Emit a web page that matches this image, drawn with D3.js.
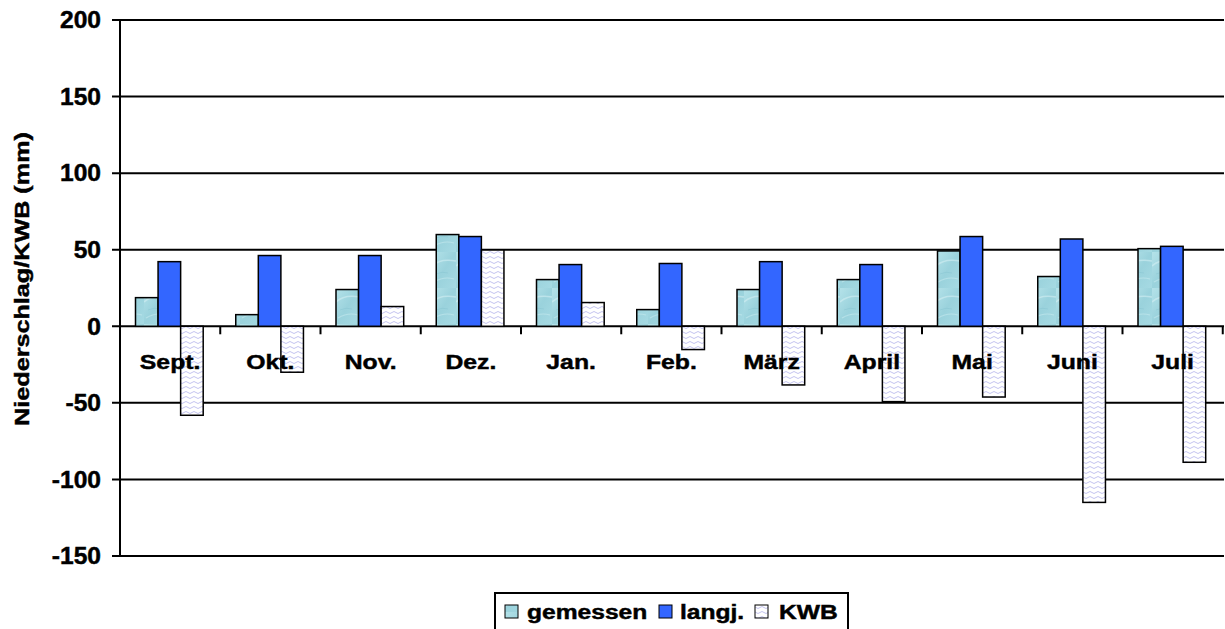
<!DOCTYPE html>
<html>
<head>
<meta charset="utf-8">
<script src="https://cdn.jsdelivr.net/npm/d3@7"></script>
<style>
  html, body { margin: 0; padding: 0; background: #fff; }
  svg { display: block; }
  text { font-family: "Liberation Sans", Arial, sans-serif; font-weight: bold; fill: #000; stroke: #000; stroke-width: 0.45px; }
</style>
</head>
<body>
<svg id="chart" width="1225" height="629"></svg>
<script>
const categories = ["Sept.", "Okt.", "Nov.", "Dez.", "Jan.", "Feb.", "März", "April", "Mai", "Juni", "Juli"];
const seriesNames = ["gemessen", "langj.", "KWB"];
const gemessen = [18.7, 7.6, 24, 59.9, 30.5, 10.9, 24, 30.5, 49.2, 32.5, 50.7];
const langj = [42.2, 46.2, 46.2, 58.6, 40.3, 41, 42.2, 40.3, 58.6, 57, 52.2];
const kwb = [-58.1, -30, 12.9, 49.8, 15.5, -15.2, -38.3, -49.2, -46.2, -115, -88.8];
const yTicks = [-150, -100, -50, 0, 50, 100, 150, 200];
const yTitle = "Niederschlag/KWB (mm)";

const svg = d3.select("#chart");
const defs = svg.append("defs");

// gemessen texture: light cyan with soft streaks
const grad = defs.append("linearGradient").attr("id", "gGrad")
  .attr("x1", 0).attr("y1", 0).attr("x2", 1).attr("y2", 1);
grad.append("stop").attr("offset", 0).attr("stop-color", "#b4e2e9");
grad.append("stop").attr("offset", 0.5).attr("stop-color", "#9ad2dc");
grad.append("stop").attr("offset", 1).attr("stop-color", "#a6dae3");
const pg = defs.append("pattern").attr("id", "pGem").attr("patternUnits", "userSpaceOnUse")
  .attr("width", 24).attr("height", 36);
pg.append("rect").attr("width", 24).attr("height", 36).attr("fill", "url(#gGrad)");
pg.append("path").attr("d", "M0,14 Q8,6 24,9").attr("stroke", "#d6f0f3").attr("stroke-width", 1.5).attr("fill", "none").attr("opacity", 0.55);
pg.append("path").attr("d", "M2,30 Q12,24 22,27").attr("stroke", "#cdeef1").attr("stroke-width", 1.2).attr("fill", "none").attr("opacity", 0.5);
pg.append("path").attr("d", "M4,22 Q10,19 16,21").attr("stroke", "#86c4cf").attr("stroke-width", 1).attr("fill", "none").attr("opacity", 0.5);

// KWB texture: white with lavender wavy lines
const pk = defs.append("pattern").attr("id", "pKwb").attr("patternUnits", "userSpaceOnUse")
  .attr("width", 8).attr("height", 5);
pk.append("rect").attr("width", 8).attr("height", 5).attr("fill", "#ffffff");
pk.append("path").attr("d", "M0,2.5 Q2,0.5 4,2.5 T8,2.5").attr("stroke", "#c4c4f0").attr("stroke-width", 1).attr("fill", "none");

const fills = ["url(#pGem)", "#3366ff", "url(#pKwb)"];

const x0 = d3.scaleBand().domain(categories).range([120, 1222.75]).padding(0);
const x1 = d3.scaleBand().domain(seriesNames).range([15.5, 83.2]).padding(0);
const y = d3.scaleLinear().domain([-150, 200]).range([556, 20]);

// gridlines
svg.append("g").selectAll("line").data(yTicks).join("line")
  .attr("x1", 112).attr("x2", 1224)
  .attr("y1", d => y(d)).attr("y2", d => y(d))
  .attr("stroke", "#000").attr("stroke-width", 2);

// y tick labels (horizontally stretched bold text)
svg.append("g").selectAll("text").data(yTicks).join("text")
  .attr("transform", d => `translate(101,${y(d)}) scale(1.07,1)`)
  .attr("dy", "0.36em")
  .attr("text-anchor", "end").attr("font-size", 23)
  .text(d => String(d));

// y axis line
svg.append("line").attr("x1", 120).attr("x2", 120).attr("y1", y(200)).attr("y2", y(-150))
  .attr("stroke", "#000").attr("stroke-width", 2);

// x tick marks at category boundaries
const bounds = categories.map(c => x0(c) + x0.bandwidth());
svg.append("g").selectAll("line").data(bounds).join("line")
  .attr("x1", d => d).attr("x2", d => d)
  .attr("y1", y(0)).attr("y2", y(0) + 8)
  .attr("stroke", "#000").attr("stroke-width", 2);

// bars
const seriesData = [gemessen, langj, kwb];
const rows = [];
categories.forEach((c, i) => {
  seriesNames.forEach((s, j) => rows.push({ c, s, j, v: seriesData[j][i] }));
});
svg.append("g").selectAll("rect").data(rows).join("rect")
  .attr("x", d => x0(d.c) + x1(d.s))
  .attr("width", x1.bandwidth())
  .attr("y", d => y(Math.max(0, d.v)))
  .attr("height", d => Math.abs(y(d.v) - y(0)))
  .attr("fill", d => fills[d.j])
  .attr("stroke", "#000").attr("stroke-width", 1.5);

// category labels
svg.append("g").selectAll("text").data(categories).join("text")
  .attr("transform", d => `translate(${x0(d) + x0.bandwidth() / 2},369) scale(1.18,1)`)
  .attr("text-anchor", "middle").attr("font-size", 21)
  .text(d => d);

// y title
svg.append("text")
  .attr("transform", "translate(29,279) rotate(-90) scale(1.26,1)")
  .attr("text-anchor", "middle").attr("font-size", 20)
  .text(yTitle);

// legend
const lg = svg.append("g");
lg.append("rect").attr("x", 495).attr("y", 593).attr("width", 353).attr("height", 50)
  .attr("fill", "#fff").attr("stroke", "#000").attr("stroke-width", 2);
const legendX = [505, 659, 755];
const legendTextX = [527, 680, 779];
seriesNames.forEach((s, j) => {
  lg.append("rect").attr("x", legendX[j]).attr("y", 605).attr("width", 13).attr("height", 13)
    .attr("fill", fills[j]).attr("stroke", "#000").attr("stroke-width", 1);
  lg.append("text").attr("transform", `translate(${legendTextX[j]},619) scale(1.23,1)`)
    .attr("font-size", 20).text(s);
});
</script>
</body>
</html>
